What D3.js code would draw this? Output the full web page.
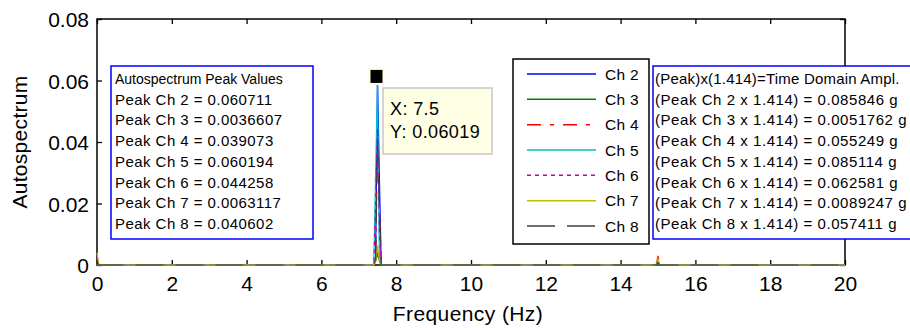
<!DOCTYPE html>
<html><head><meta charset="utf-8">
<script src="https://cdn.jsdelivr.net/npm/d3@7/dist/d3.min.js"></script>
<style>
html,body{margin:0;padding:0;background:#fff;}
svg{display:block;font-family:"Liberation Sans",Arial,sans-serif;}
</style></head>
<body><svg id="c" width="910" height="328"></svg>
<script>
// ---- data ----
const freq = [0, 0.05, 0.1, 7.4, 7.45, 7.5, 7.55, 7.6, 14.95, 15, 15.05, 20];
const ch2 = [0.0003, 0, 0, 0, 0.0015, 0.060711, 0.0290, 0, 0, 0.0005, 0, 0];
const ch3 = [0.0002, 0, 0, 0, 0.0012, 0.0036607, 0.0015, 0, 0, 0.0002, 0, 0];
const ch4 = [0.0003, 0, 0, 0, 0.0010, 0.039073, 0.0190, 0, 0, 0.0030, 0, 0];
const ch5 = [0.0002, 0, 0, 0, 0.0300, 0.060194, 0.0010, 0, 0, 0.0004, 0, 0];
const ch6 = [0.0030, 0, 0, 0, 0.0200, 0.044258, 0.0100, 0, 0, 0.0010, 0, 0];
const ch7 = [0.0040, 0, 0, 0, 0.0010, 0.0063117, 0.0020, 0, 0, 0.0020, 0, 0];
const ch8 = [0.0010, 0, 0, 0, 0.0020, 0.040602, 0.0200, 0, 0, 0.0008, 0, 0];
const seriesNames = ["Ch 2", "Ch 3", "Ch 4", "Ch 5", "Ch 6", "Ch 7", "Ch 8"];
const xTicks = [0, 2, 4, 6, 8, 10, 12, 14, 16, 18, 20];
const yTicks = [0, 0.02, 0.04, 0.06, 0.08];
const yTickLabels = ["0", "0.02", "0.04", "0.06", "0.08"];
const peakLines = ["Autospectrum Peak Values", "Peak Ch 2 = 0.060711", "Peak Ch 3 = 0.0036607", "Peak Ch 4 = 0.039073",
  "Peak Ch 5 = 0.060194", "Peak Ch 6 = 0.044258", "Peak Ch 7 = 0.0063117", "Peak Ch 8 = 0.040602"];
const amplLines = ["(Peak)x(1.414)=Time Domain Ampl.", "(Peak Ch 2 x 1.414) = 0.085846 g", "(Peak Ch 3 x 1.414) = 0.0051762 g",
  "(Peak Ch 4 x 1.414) = 0.055249 g", "(Peak Ch 5 x 1.414) = 0.085114 g", "(Peak Ch 6 x 1.414) = 0.062581 g",
  "(Peak Ch 7 x 1.414) = 0.0089247 g", "(Peak Ch 8 x 1.414) = 0.057411 g"];
const tipX = 7.5, tipY = 0.06019;

// ---- styles ----
const allSeries = [ch2, ch3, ch4, ch5, ch6, ch7, ch8];
const colors = ["#0000ff", "#008000", "#ff0000", "#00bfbf", "#bf00bf", "#bfbf00", "#404040"];
const dashes = [null, null, "14,9,4,9", null, "4,4", null, "28,12"];

const svg = d3.select("#c");
const L = 97, R = 845, T = 19, B = 265;
const x = d3.scaleLinear().domain([0, 20]).range([L, R]);
const y = d3.scaleLinear().domain([0, 0.08]).range([B, T]);

svg.append("defs").append("clipPath").attr("id", "clip")
  .append("rect").attr("x", L - 1).attr("y", T).attr("width", R - L + 2).attr("height", B - T + 1.5);

// axes
const fs = 21;
const ax = svg.append("g").attr("transform", `translate(0,${B})`)
  .call(d3.axisBottom(x).tickValues(xTicks).tickSize(-5).tickPadding(9).tickFormat(d3.format("d")));
const axT = svg.append("g").attr("transform", `translate(0,${T})`)
  .call(d3.axisTop(x).tickValues(xTicks).tickSize(-5).tickFormat(""));
const ay = svg.append("g").attr("transform", `translate(${L},0)`)
  .call(d3.axisLeft(y).tickValues(yTicks).tickSize(-5).tickPadding(8).tickFormat((d, i) => yTickLabels[i]));
const ayR = svg.append("g").attr("transform", `translate(${R},0)`)
  .call(d3.axisRight(y).tickValues(yTicks).tickSize(-5).tickFormat(""));
[ax, axT, ay, ayR].forEach(a => {
  a.select(".domain").remove();
  a.selectAll(".tick line").attr("stroke", "#000").attr("stroke-width", 1.3);
  a.selectAll("text").attr("font-size", fs).attr("fill", "#000").attr("font-family", "Liberation Sans, Arial, sans-serif");
});
ax.selectAll("text").attr("dy", "0.8em");
ay.selectAll("text").attr("dy", "0.36em");
svg.append("rect").attr("x", L).attr("y", T).attr("width", R - L).attr("height", B - T)
  .attr("fill", "none").attr("stroke", "#000").attr("stroke-width", 1.5);

// series (drawn over the frame)
const line = d3.line().x(d => x(d[0])).y(d => y(d[1]));
const g = svg.append("g").attr("clip-path", "url(#clip)");
allSeries.forEach((vals, i) => {
  g.append("path").datum(freq.map((f, k) => [f, vals[k]]))
    .attr("d", line).attr("fill", "none").attr("stroke", colors[i])
    .attr("stroke-width", 1.2).attr("stroke-dasharray", dashes[i]);
});

// axis titles
svg.append("text").attr("x", 468).attr("y", 321).attr("text-anchor", "middle")
  .attr("font-size", 21).attr("letter-spacing", 0.4).text("Frequency (Hz)");
svg.append("text").attr("transform", `translate(27,${(T + B) / 2}) rotate(-90)`).attr("text-anchor", "middle")
  .attr("font-size", 21).attr("letter-spacing", 0.3).text("Autospectrum");

// left annotation box
const boxTop = 66, boxBot = 239, lh = 20.7;
svg.append("rect").attr("x", 111).attr("y", boxTop).attr("width", 202).attr("height", boxBot - boxTop)
  .attr("fill", "#fff").attr("stroke", "#0000ff").attr("stroke-width", 1.5);
peakLines.forEach((t, i) => {
  svg.append("text").attr("x", 115).attr("y", 84 + i * lh).attr("font-size", i === 0 ? 14 : 15)
    .attr("letter-spacing", i === 0 ? 0 : 0.45).text(t);
});

// right annotation box
svg.append("rect").attr("x", 653).attr("y", boxTop).attr("width", 270).attr("height", boxBot - boxTop)
  .attr("fill", "#fff").attr("stroke", "#0000ff").attr("stroke-width", 1.5);
amplLines.forEach((t, i) => {
  svg.append("text").attr("x", 655).attr("y", 84 + i * lh).attr("font-size", 15)
    .attr("letter-spacing", i === 0 ? 0.2 : 0.55).text(t);
});

// legend
svg.append("rect").attr("x", 513).attr("y", 59).attr("width", 136).attr("height", 185)
  .attr("fill", "#fff").attr("stroke", "#000").attr("stroke-width", 1.5);
const ly = d3.scalePoint().domain(seriesNames).range([74, 226]);
seriesNames.forEach((n, i) => {
  svg.append("line").attr("x1", 527).attr("x2", 596).attr("y1", ly(n)).attr("y2", ly(n))
    .attr("stroke", colors[i]).attr("stroke-width", 1.5).attr("stroke-dasharray", dashes[i]);
  svg.append("text").attr("x", 605).attr("y", ly(n) + 5.5).attr("font-size", 15.5).attr("letter-spacing", 0.3).text(n);
});

// data tip
const px = x(tipX), py = y(tipY);
svg.append("rect").attr("x", px - 9).attr("y", py - 12).attr("width", 16).attr("height", 17).attr("fill", "#ffffe0");
svg.append("rect").attr("x", px - 7).attr("y", py - 10).attr("width", 12).attr("height", 13).attr("fill", "#000");
svg.append("rect").attr("x", 383).attr("y", 88).attr("width", 109).attr("height", 66)
  .attr("fill", "#ffffe6").attr("stroke", "#c8c8c8").attr("stroke-width", 1.5);
svg.append("text").attr("x", 390).attr("y", 115).attr("font-size", 18).attr("letter-spacing", 0.4).text("X: " + tipX);
svg.append("text").attr("x", 390).attr("y", 138).attr("font-size", 18).attr("letter-spacing", 0.4).text("Y: " + tipY);
</script></body></html>
